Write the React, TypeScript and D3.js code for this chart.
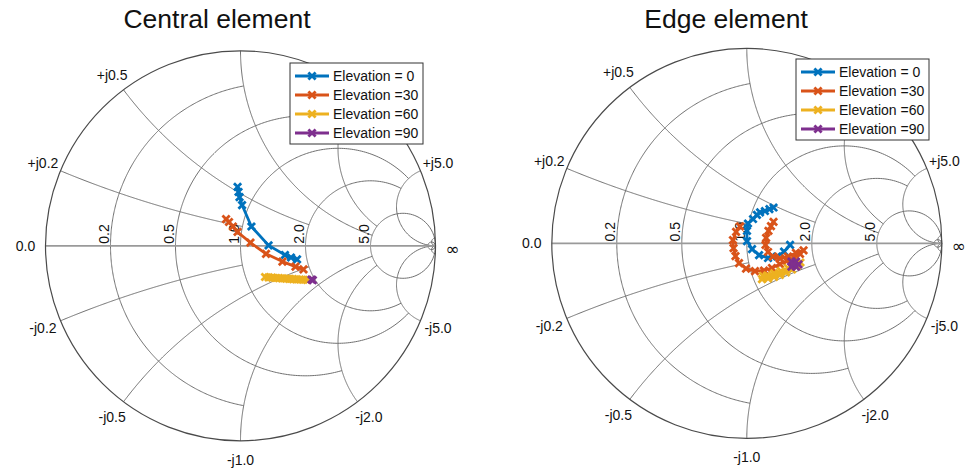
import React from 'react';
import * as d3 from 'd3';

type Pt = [number, number];

// ---- grid specification (normalized impedance) ----
const resistanceCircles = [0.2, 0.5, 1, 2, 5, 50];
const resistanceStops = [1, 2, 5, 5, Infinity, Infinity];
const reactanceArcs = [0.2, 0.5, 1, 2, 5, 50];
const reactanceStops = [1, 2, 5, 5, Infinity, Infinity];
const resistanceTicks = [0.2, 0.5, 1, 2, 5];
const resistanceLabels = ['0.2', '0.5', '1.0', '2.0', '5.0'];
const reactanceTicksUpper = [0.2, 0.5, 5];
const reactanceLabelsUpper = ['+j0.2', '+j0.5', '+j5.0'];
const reactanceTicksLower = [0.2, 0.5, 1, 2, 5];
const reactanceLabelsLower = ['-j0.2', '-j0.5', '-j1.0', '-j2.0', '-j5.0'];

// ---- legend ----
const seriesNames = ['Elevation = 0', 'Elevation =30', 'Elevation =60', 'Elevation =90'];
const seriesColors = ['#0072BD', '#D95319', '#EDB120', '#7E2F8E'];

// ---- data: reflection coefficient (re, im) ----
const centralElev0: Pt[] = [
  [-0.015, 0.302], [-0.010, 0.276], [-0.005, 0.250], [0.008, 0.209], [0.056, 0.099],
  [0.144, 0.002], [0.228, -0.047], [0.259, -0.060], [0.290, -0.070],
];
const centralElev30: Pt[] = [
  [-0.074, 0.137], [-0.059, 0.122], [-0.039, 0.099], [-0.015, 0.071], [0.051, 0.016],
  [0.131, -0.041], [0.215, -0.081], [0.282, -0.107], [0.323, -0.121],
];
const centralElev60: Pt[] = [
  [0.126, -0.160], [0.144, -0.162], [0.162, -0.163], [0.180, -0.165], [0.197, -0.166],
  [0.215, -0.167], [0.233, -0.168], [0.251, -0.170], [0.269, -0.171], [0.287, -0.172],
  [0.305, -0.173], [0.323, -0.174], [0.341, -0.175],
];
const centralElev90: Pt[] = [[0.364, -0.173], [0.371, -0.176]];

const edgeElev0: Pt[] = [
  [0.137, 0.184], [0.116, 0.176], [0.093, 0.166], [0.068, 0.159], [0.052, 0.146],
  [0.032, 0.125], [0.006, 0.102], [0.001, 0.064], [0.001, 0.012], [0.027, -0.029],
  [0.063, -0.060], [0.109, -0.075], [0.155, -0.067], [0.191, -0.042], [0.222, -0.008],
];
const edgeElev30: Pt[] = [
  [-0.035, 0.087], [-0.055, 0.059], [-0.071, 0.017], [-0.068, -0.024], [-0.058, -0.065],
  [-0.040, -0.101], [-0.004, -0.129], [0.042, -0.142], [0.088, -0.139], [0.129, -0.126],
  [0.170, -0.106], [0.206, -0.090], [0.242, -0.072], [0.273, -0.054], [0.291, -0.036],
  [0.252, -0.049], [0.211, -0.067], [0.170, -0.077], [0.134, -0.067], [0.109, -0.044],
  [0.096, -0.008], [0.099, 0.028], [0.111, 0.064], [0.124, 0.089], [0.137, 0.110],
];
const edgeElev60: Pt[] = [
  [0.078, -0.183], [0.109, -0.180], [0.140, -0.172], [0.170, -0.162], [0.201, -0.149],
  [0.232, -0.134], [0.257, -0.116], [0.275, -0.098], [0.252, -0.095], [0.211, -0.126],
  [0.175, -0.142], [0.140, -0.154], [0.104, -0.165], [0.083, -0.167],
];
const edgeElev90: Pt[] = [
  [0.229, -0.093], [0.252, -0.093], [0.265, -0.108], [0.252, -0.119], [0.229, -0.119],
  [0.240, -0.106],
];

const charts = [
  {
    title: 'Central element', cx: 240.5, cy: 245.8, R: 195, titleX: 217,
    legendX: 290, legendY: 63,
    series: [centralElev0, centralElev30, centralElev60, centralElev90],
  },
  {
    title: 'Edge element', cx: 746.8, cy: 243.4, R: 195, titleX: 726,
    legendX: 796, legendY: 59,
    series: [edgeElev0, edgeElev30, edgeElev60, edgeElev90],
  },
];

const FONT = '"Liberation Sans", Arial, Helvetica, sans-serif';

function gamma(r: number, x: number): Pt {
  const den = (r + 1) * (r + 1) + x * x;
  return [(r * r - 1 + x * x) / den, (2 * x) / den];
}

function resistancePts(r: number, xEnd: number): Pt[] {
  const tMax = Math.atan(xEnd);
  return d3.range(0, 361).map((i) => {
    const t = -tMax + (2 * tMax * i) / 360;
    return gamma(r, Math.tan(t));
  });
}

function reactancePts(x: number, rEnd: number): Pt[] {
  const sMax = Math.atan(rEnd);
  return d3.range(0, 241).map((i) => gamma(Math.tan((sMax * i) / 240), x));
}

const markerPath = 'M-3.6,-3.6L3.6,3.6M-3.6,3.6L3.6,-3.6';

function SmithChart({ chart }: { chart: (typeof charts)[number] }) {
  const { cx, cy, R } = chart;
  const xs = d3.scaleLinear().domain([-1, 1]).range([cx - R, cx + R]);
  const ys = d3.scaleLinear().domain([-1, 1]).range([cy + R, cy - R]);
  const line = d3.line<Pt>().x((p) => xs(p[0])).y((p) => ys(p[1]));
  const gridStroke = '#707070';

  const labelAt = (x: number, sign: number) => {
    const ang = Math.PI - 2 * Math.atan(x);
    const rr = R + 19;
    return [cx + rr * Math.cos(ang), cy - sign * rr * Math.sin(ang)];
  };

  return (
    <g>
      <text x={chart.titleX} y={28} textAnchor="middle" fontSize={26.5} fontFamily={FONT} fill="#111">
        {chart.title}
      </text>
      {resistanceCircles.map((r, i) => (
        <path key={'r' + i} d={line(resistancePts(r, resistanceStops[i])) || ''} fill="none" stroke={gridStroke} strokeWidth={1} />
      ))}
      {reactanceArcs.map((x, i) => (
        <g key={'x' + i}>
          <path d={line(reactancePts(x, reactanceStops[i])) || ''} fill="none" stroke={gridStroke} strokeWidth={1} />
          <path d={line(reactancePts(-x, reactanceStops[i])) || ''} fill="none" stroke={gridStroke} strokeWidth={1} />
        </g>
      ))}
      <line x1={xs(-1)} x2={xs(1)} y1={ys(0)} y2={ys(0)} stroke="#9a9a9a" strokeWidth={1.7} />
      <circle cx={xs(0)} cy={ys(0)} r={R} fill="none" stroke="#4a4a4a" strokeWidth={1.2} />
      {resistanceTicks.map((r, i) => {
        const px = xs(gamma(r, 0)[0]) - 1.5;
        const py = ys(0) - 2;
        return (
          <text key={'rl' + i} transform={`translate(${px},${py}) rotate(-90)`} fontSize={14} fontFamily={FONT} fill="#111">
            {resistanceLabels[i]}
          </text>
        );
      })}
      {reactanceTicksUpper.map((x, i) => {
        const [lx, ly] = labelAt(x, 1);
        return (
          <text key={'xu' + i} x={lx} y={ly} textAnchor="middle" dominantBaseline="central" fontSize={14} fontFamily={FONT} fill="#111">
            {reactanceLabelsUpper[i]}
          </text>
        );
      })}
      {reactanceTicksLower.map((x, i) => {
        const [lx, ly] = labelAt(x, -1);
        return (
          <text key={'xl' + i} x={lx} y={ly} textAnchor="middle" dominantBaseline="central" fontSize={14} fontFamily={FONT} fill="#111">
            {reactanceLabelsLower[i]}
          </text>
        );
      })}
      <text x={cx - R - 20} y={cy} textAnchor="middle" dominantBaseline="central" fontSize={14} fontFamily={FONT} fill="#111">0.0</text>
      <text x={cx + R + 17} y={cy + 3} textAnchor="middle" dominantBaseline="central" fontSize={17} fontFamily='"DejaVu Sans", sans-serif' fill="#111">∞</text>
      {chart.series.map((s, si) => (
        <g key={'s' + si}>
          <path d={line(s) || ''} fill="none" stroke={seriesColors[si]} strokeWidth={2.8} strokeLinejoin="round" />
          {s.map((p, pi) => (
            <path key={pi} transform={`translate(${xs(p[0])},${ys(p[1])})`} d={markerPath} stroke={seriesColors[si]} strokeWidth={2.8} fill="none" />
          ))}
        </g>
      ))}
      <g transform={`translate(${chart.legendX},${chart.legendY})`}>
        <rect x={0} y={0} width={133} height={81} fill="#fff" stroke="#333" strokeWidth={1} />
        {seriesNames.map((n, i) => {
          const yy = 13 + i * 19;
          return (
            <g key={'lg' + i}>
              <line x1={5} x2={39} y1={yy} y2={yy} stroke={seriesColors[i]} strokeWidth={3} />
              <path transform={`translate(22,${yy})`} d={markerPath} stroke={seriesColors[i]} strokeWidth={2.8} fill="none" />
              <text x={43} y={yy} dominantBaseline="central" fontSize={14} fontFamily={FONT} fill="#111">{n}</text>
            </g>
          );
        })}
      </g>
    </g>
  );
}

export default function App() {
  return (
    <svg width={967} height={470} style={{ position: 'absolute', left: 0, top: 0, background: '#fff' }}>
      <rect x={0} y={0} width={967} height={470} fill="#fff" />
      {charts.map((c, i) => (
        <SmithChart key={i} chart={c} />
      ))}
    </svg>
  );
}
